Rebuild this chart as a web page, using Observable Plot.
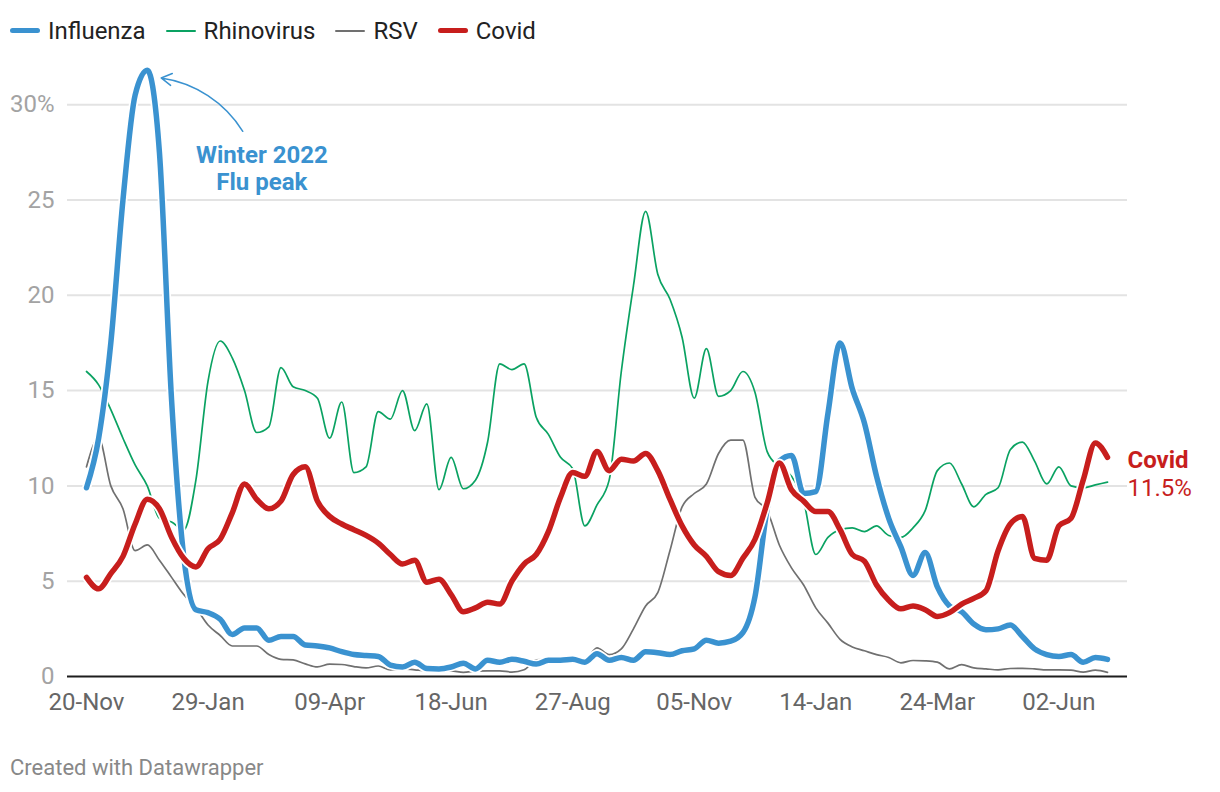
<!DOCTYPE html>
<html><head><meta charset="utf-8">
<script src="https://cdn.jsdelivr.net/npm/d3@7"></script>
<script src="https://cdn.jsdelivr.net/npm/@observablehq/plot@0.6"></script>
<style>
body{margin:0;background:#fff;font-family:Roboto,sans-serif;width:1220px;height:792px;overflow:hidden;position:relative}
#legend{height:55px;display:flex;align-items:center;padding-left:10px;font-size:24px;color:#222;box-sizing:border-box;padding-top:6px}
.item{display:flex;align-items:center;margin-right:20px}
.sw{width:30px;border-radius:3px;margin-right:8px}
#chart svg{display:block}
#footer{position:absolute;left:10px;top:755px;font-size:22px;color:#888}
</style></head><body>
<div id="legend"></div><div id="chart"></div><div id="footer">Created with Datawrapper</div>
<script>
const startDate = "2022-11-20";
const seriesNames = ["Influenza", "Rhinovirus", "RSV", "Covid"];
const seriesColors = ["#3a92d0", "#0aa262", "#707070", "#c71e1d"];
const tickDates = ["2022-11-20","2023-01-29","2023-04-09","2023-06-18","2023-08-27","2023-11-05","2024-01-14","2024-03-24","2024-06-02"];
const yTicks = [0, 5, 10, 15, 20, 25, 30];

const influenza = [9.9,12.5,17.5,25,30.5,31.8,27.5,14.5,6.3,3.5, 3.35,3.0,2.2,2.55,2.55,1.9,2.1,2.1,1.65,1.6, 1.5,1.3,1.15,1.1,1.05,0.6,0.5,0.75,0.42,0.4, 0.5,0.7,0.4,0.85,0.75,0.9,0.8,0.65,0.85,0.85, 0.9,0.75,1.2,0.85,1.0,0.85,1.3,1.25,1.15,1.35, 1.45,1.9,1.75,1.85,2.3,4.2,8.8,11.3,11.6,9.6, 9.7,13.8,17.5,15.1,13.3,10.5,8.3,6.8,5.3,6.5, 4.7,3.7,3.4,2.75,2.45,2.5,2.7,2.1,1.45,1.15, 1.05,1.15,0.75,1.0,0.9];
const rhinovirus = [16.0,15.3,14.0,12.5,11.1,10.0,8.3,8.1,7.7,10.3, 15.5,17.6,16.7,15.0,12.8,13.1,16.2,15.2,15.0,14.6, 12.5,14.4,10.7,11.0,13.9,13.5,15.0,12.9,14.3,9.8, 11.5,9.85,10.3,12.3,16.4,16.1,16.4,13.6,12.7,11.5, 10.9,7.9,9.0,10.3,16.0,20.5,24.4,21.1,19.8,17.8, 14.6,17.2,14.7,15.0,16.0,14.9,11.8,11.0,10.5,9.2, 6.4,7.3,7.7,7.8,7.6,7.9,7.4,7.3,7.8,8.7, 10.8,11.2,10.1,8.9,9.55,9.9,11.9,12.3,11.3,10.1, 11.0,10.0,9.9,10.05,10.2];
const rsv = [11.0,12.5,10.0,8.8,6.6,6.9,6.1,5.2,4.3,3.6, 2.7,2.15,1.6,1.6,1.6,1.15,0.9,0.87,0.66,0.5, 0.65,0.63,0.52,0.45,0.55,0.35,0.4,0.35,0.3,0.3, 0.3,0.22,0.28,0.3,0.3,0.23,0.35,0.87,0.9,0.9, 0.85,0.85,1.5,1.15,1.45,2.5,3.7,4.4,6.6,8.9, 9.6,10.1,11.7,12.4,12.4,9.4,8.7,6.9,5.7,4.8, 3.6,2.8,1.95,1.55,1.35,1.15,1.0,0.72,0.84,0.82, 0.75,0.4,0.62,0.45,0.4,0.35,0.42,0.43,0.4,0.35, 0.35,0.33,0.23,0.33,0.22];
const covid = [5.2,4.6,5.4,6.3,8.0,9.3,8.8,7.3,6.2,5.75, 6.7,7.2,8.6,10.1,9.3,8.8,9.2,10.6,11.0,9.2, 8.4,8.0,7.7,7.4,7.0,6.4,5.9,6.1,4.95,5.1, 4.3,3.4,3.6,3.9,3.8,5.0,5.9,6.4,7.6,9.4, 10.7,10.5,11.8,10.8,11.4,11.3,11.7,10.8,9.3,7.9, 6.9,6.3,5.5,5.3,6.2,7.2,9.1,11.2,9.8,9.2, 8.65,8.65,7.7,6.4,6.05,4.8,4.0,3.55,3.7,3.5, 3.15,3.35,3.8,4.1,4.5,6.6,8.0,8.4,6.2,6.1, 7.9,8.3,10.3,12.25,11.5];

// annotation anchors (data space)
const peakNote = [{tx: "2023-03-01", ty: 26.7, text: "Winter 2022\nFlu peak", ax1: "2023-02-18", ay1: 28.6, ax2: "2023-01-02", ay2: 31.4}];

const seriesValues = [influenza, rhinovirus, rsv, covid];
const weeks = influenza.map((_, i) => d3.utcDay.offset(new Date(startDate), 7 * i));
const bySeries = seriesNames.map((name, k) => seriesValues[k].map((v, i) => ({series: name, date: weeks[i], value: v})));
const color = Object.fromEntries(seriesNames.map((n, k) => [n, seriesColors[k]]));

// legend
const thick = {Influenza: 5, Rhinovirus: 2, RSV: 2, Covid: 5};
const leg = document.getElementById("legend");
seriesNames.forEach(n => {
  const it = document.createElement("div"); it.className = "item";
  const sw = document.createElement("div"); sw.className = "sw";
  sw.style.height = thick[n] + "px"; sw.style.background = color[n];
  const tx = document.createElement("span"); tx.textContent = n;
  it.appendChild(sw); it.appendChild(tx); leg.appendChild(it);
});

const lineOpts = (name, w) => ({x: "date", y: "value", stroke: color[name], strokeWidth: w, curve: "monotone-x", strokeLinejoin: "round", strokeLinecap: "round"});
const halo = (w) => ({x: "date", y: "value", stroke: "white", strokeWidth: w, curve: "monotone-x", strokeLinejoin: "round"});
const [fluD, rhinoD, rsvD, covD] = bySeries;
const lastCovid = covD[covD.length - 1];

const chart = Plot.plot({
  width: 1220, height: 685,
  marginLeft: 67, marginRight: 93, marginTop: 11, marginBottom: 64,
  x: {type: "utc", domain: [weeks[0], weeks[weeks.length - 1]], insetLeft: 19, insetRight: 20},
  y: {domain: [0, 32]},
  style: {fontFamily: "Roboto, sans-serif", background: "transparent", overflow: "visible"},
  marks: [
    Plot.gridY({ticks: yTicks.filter(d => d > 0), stroke: "#e3e3e3", strokeOpacity: 1, strokeWidth: 2}),
    Plot.axisY({ticks: yTicks, tickSize: 0, tickPadding: 13, label: null, fontSize: 24, color: "#a3a3a3",
      tickFormat: d => d === 30 ? "30%" : String(d)}),
    Plot.axisX({ticks: tickDates.map(d => new Date(d)), tickSize: 0, tickPadding: 16, label: null, fontSize: 24, color: "#666",
      tickFormat: d3.utcFormat("%d-%b")}),
    Plot.line(rhinoD, lineOpts("Rhinovirus", 1.7)),
    Plot.line(rsvD, lineOpts("RSV", 1.7)),
    Plot.line(fluD, halo(9)),
    Plot.line(fluD, lineOpts("Influenza", 5.5)),
    Plot.line(covD, halo(9)),
    Plot.line(covD, lineOpts("Covid", 5.5)),
    Plot.ruleY([0], {stroke: "#1d1d1d", strokeWidth: 2}),
    Plot.arrow(peakNote, {x1: d => new Date(d.ax1), y1: "ay1", x2: d => new Date(d.ax2), y2: "ay2",
      bend: -25, stroke: color.Influenza, strokeWidth: 1.5, headLength: 12}),
    Plot.text(peakNote, {x: d => new Date(d.tx), y: "ty", text: "text", fill: color.Influenza,
      fontWeight: "bold", fontSize: 24, lineHeight: 1.125}),
    Plot.text([lastCovid], {x: "date", y: "value", text: d => d.series, dx: 20, dy: 3, textAnchor: "start",
      fill: color.Covid, fontWeight: "bold", fontSize: 24}),
    Plot.text([lastCovid], {x: "date", y: "value", text: d => d.value.toFixed(1) + "%", dx: 20, dy: 31, textAnchor: "start",
      fill: color.Covid, fontSize: 24})
  ]
});
document.getElementById("chart").appendChild(chart);
</script>
</body></html>
